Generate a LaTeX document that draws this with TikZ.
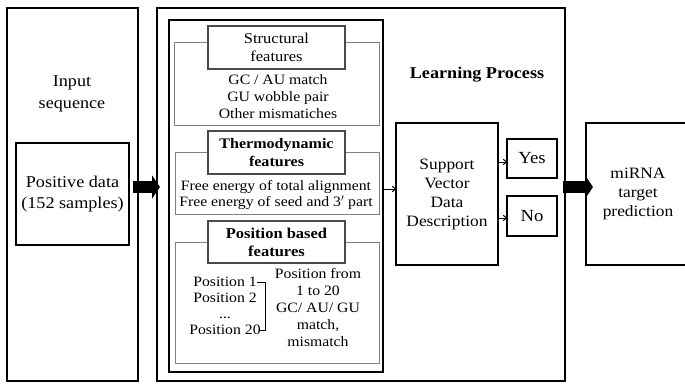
\documentclass[tikz,border=0pt]{standalone}
\usepackage{fontspec}
\setmainfont[FakeStretch=1.1]{Liberation Serif}
\usetikzlibrary{arrows.meta}
\newcommand\myfs[2]{\fontsize{#1}{#2}\selectfont}
\definecolor{grp}{HTML}{808080}
\definecolor{ttl}{HTML}{4A4A4A}
\tikzset{
  blk/.style={draw=black, line width=1.4pt, inner sep=0pt, outer sep=0pt},
  thickblk/.style={draw=black, line width=2.6pt, inner sep=0pt, outer sep=0pt},
  grpbox/.style={draw=grp, line width=1pt, inner sep=0pt, outer sep=0pt},
  ttlbox/.style={draw=ttl, fill=white, line width=1.2pt, inner sep=0pt, outer sep=0pt, align=center},
  lbl/.style={inner sep=0pt, align=center},
  bigarrow/.style={line width=12pt, -{Triangle[length=8pt, width=23pt]}},
  smallarrow/.style={line width=1pt, -{To[length=4pt,width=6pt]}},
}
\begin{document}
\begin{tikzpicture}[x=1pt,y=-1pt]
\useasboundingbox (0,0) rectangle (685,383);
% left input column
\node[blk, minimum width=131pt, minimum height=373pt] (inbox) at (72.5,194.5) {};
\node[lbl, font=\myfs{16.5}{22}] (intitle) at (72,94) {Input\\sequence};
\node[blk, minimum width=113pt, minimum height=102pt, align=center, font=\myfs{16.5}{21}] (pos) at (72.5,194) {Positive data\\(152 samples)};
% middle box
\node[blk, minimum width=408pt, minimum height=373pt] (mid) at (361,194.5) {};
\node[thickblk, minimum width=214pt, minimum height=352pt] (feat) at (276,196) {};
% structural
\node[grpbox, minimum width=205pt, minimum height=83pt] (sgrp) at (276.5,83.5) {};
\node[ttlbox, minimum width=137pt, minimum height=43pt, font=\myfs{15}{18}] (stitle) at (276.5,47.5) {Structural\\features};
\node[lbl, font=\myfs{14.3}{17}] (sbody) at (278,97) {GC / AU match\\GU wobble pair\\Other mismatiches};
% thermodynamic
\node[grpbox, minimum width=204pt, minimum height=62pt] (tgrp) at (277,183) {};
\node[ttlbox, minimum width=137pt, minimum height=43pt, font=\bfseries\myfs{14.6}{18}] (ttitle) at (276.5,152.5) {Thermodynamic\\features};
\node[lbl, font=\myfs{14.3}{16.5}] (tbody) at (276,195) {Free energy of total alignment\\Free energy of seed and 3$'$ part};
% position based
\node[grpbox, minimum width=204pt, minimum height=121pt] (pgrp) at (277,302.5) {};
\node[ttlbox, minimum width=137pt, minimum height=42pt, font=\bfseries\myfs{15}{18}] (ptitle) at (276.5,242) {Position based\\features};
\node[lbl, font=\myfs{14.3}{16.2}] (plist) at (225,306) {Position 1\\Position 2\\...\\Position 20};
\coordinate (br1) at (257,282);
\coordinate (br2) at (265,282);
\coordinate (br3) at (265,330);
\coordinate (br4) at (260,330);
\draw[line width=0.8pt] (br1) -- (br2) -- (br3) -- (br4);
\node[lbl, font=\myfs{14.3}{17.2}] (pdesc) at (318,307.5) {Position from\\1 to 20\\GC/ AU/ GU\\match,\\mismatch};
% learning process
\node[lbl, font=\bfseries\myfs{16.5}{20}] (lp) at (477,75) {Learning Process};
\node[blk, minimum width=102pt, minimum height=142pt, align=center, font=\myfs{15.8}{19}] (svdd) at (447,194) {Support\\Vector\\Data\\Description};
\node[blk, line width=2pt, minimum width=50pt, minimum height=39pt, font=\myfs{17}{20}] (yes) at (532,158.5) {Yes};
\node[blk, line width=2pt, minimum width=50pt, minimum height=40pt, font=\myfs{17}{20}] (no) at (532,216) {No};
% output
\node[blk, minimum width=104pt, minimum height=142pt, align=center, font=\myfs{15.8}{19}] (mirna) at (638,194) {miRNA\\target\\prediction};
% connectors
\coordinate (fa) at (382,189);
\draw[smallarrow] (fa) -- (svdd.west |- fa);
\draw[smallarrow] (svdd.east |- 0,162) -- (yes.west |- 0,162);
\draw[smallarrow] (svdd.east |- 0,218) -- (no.west |- 0,218);
\coordinate (ba1) at (133,187);
\coordinate (ba2) at (160,187);
\draw[bigarrow] (ba1) -- (ba2);
\coordinate (bb1) at (563,187);
\coordinate (bb2) at (593,187);
\draw[bigarrow] (bb1) -- (bb2);
\end{tikzpicture}
\end{document}
